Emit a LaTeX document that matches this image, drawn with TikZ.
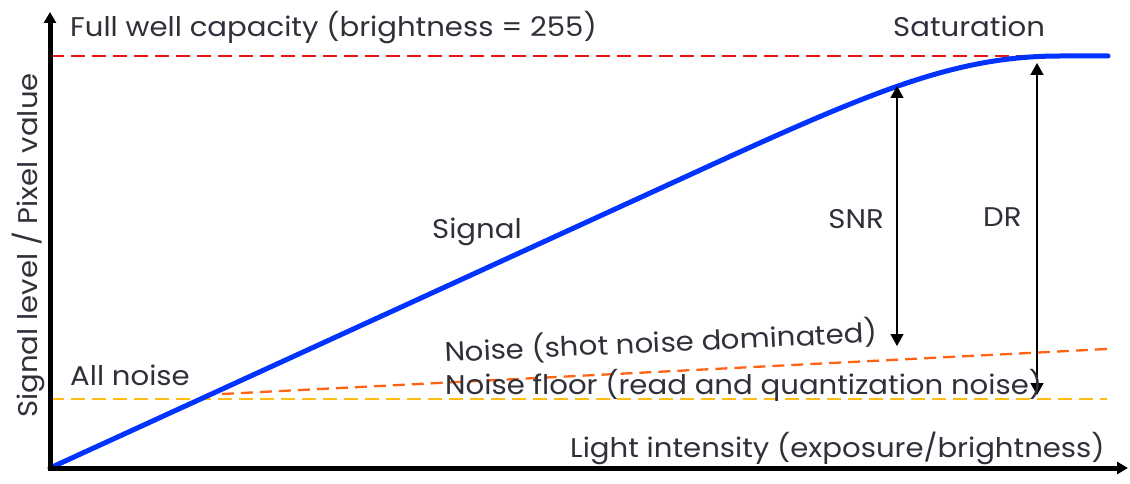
\documentclass[tikz,border=0pt]{standalone}
\usepackage{fontspec}
\setmainfont{Poppins}[FakeStretch=1.08]
\usetikzlibrary{arrows.meta}
\definecolor{txt}{RGB}{48,48,58}
\definecolor{sigblue}{RGB}{0,51,255}
\definecolor{fwred}{RGB}{235,20,20}
\definecolor{shotor}{RGB}{255,100,20}
\definecolor{flooryl}{RGB}{255,190,20}
\tikzset{
  lbl/.style={text=txt,font=\fontsize{27}{30}\selectfont,inner sep=0pt,anchor=base west},
  axisline/.style={line width=5pt,-{Triangle[width=12pt,length=11pt]}},
  dashline/.style={line width=2.7pt,dash pattern=on 14pt off 7pt},
  measure/.style={line width=1.4pt,{Triangle[width=13pt,length=12pt]}-{Triangle[width=13pt,length=12pt]}},
}
\begin{document}
\begin{tikzpicture}[x=1pt,y=1pt]
\useasboundingbox (0,0) rectangle (1130,483);
% coordinates
\coordinate (O) at (50,15);
\coordinate (Ytip) at (50,471);
\coordinate (Xtip) at (1128,15);
\coordinate (fwL) at (50,427);
\coordinate (fwR) at (1060,427);
\coordinate (nfL) at (50,84);
\coordinate (nfR) at (1107,84);
\coordinate (shL) at (222,89);
\coordinate (shR) at (1107,134);
\coordinate (snrB) at (897,137);
\coordinate (snrT) at (897,397);
\coordinate (drB) at (1037,88);
\coordinate (drT) at (1037,420);
% dashed levels
\draw[dashline,fwred] (fwL) -- (fwR);
\draw[dashline,flooryl] (nfL) -- (nfR);
\draw[line width=2.3pt,dash pattern=on 12pt off 7pt,shotor] (shL) -- (shR);
% signal curve
\draw[line width=5pt,sigblue,line cap=round] (O) -- (720,322) .. controls (880,395) and (960,427) .. (1060,427) -- (1108,427);
% measure arrows
\draw[measure] (snrB) -- (snrT);
\draw[measure] (drB) -- (drT);
% axes
\draw[axisline] (50,12.5) -- (Ytip);
\draw[axisline] (47.5,15) -- (Xtip);
% labels
\node[lbl] (fw) at (70,446) {Full well capacity (brightness = 255)};
\node[lbl] (sat) at (893,446) {Saturation};
\node[lbl] (sig) at (432,245) {Signal};
\node[lbl,anchor=base east] (snr) at (884,255) {SNR};
\node[lbl] (dr) at (983,257) {DR};
\node[lbl] (alln) at (70,98) {All noise};
\node[lbl,rotate=2.6] (shot) at (445,121) {Noise (shot noise dominated)};
\node[lbl] (floor) at (445,89) {Noise floor (read and quantization noise)};
\node[lbl] (xl) at (570,26) {Light intensity (exposure/brightness)};
\node[lbl,rotate=90] (yl) at (37,65) {Signal level / Pixel value};
\end{tikzpicture}
\end{document}
